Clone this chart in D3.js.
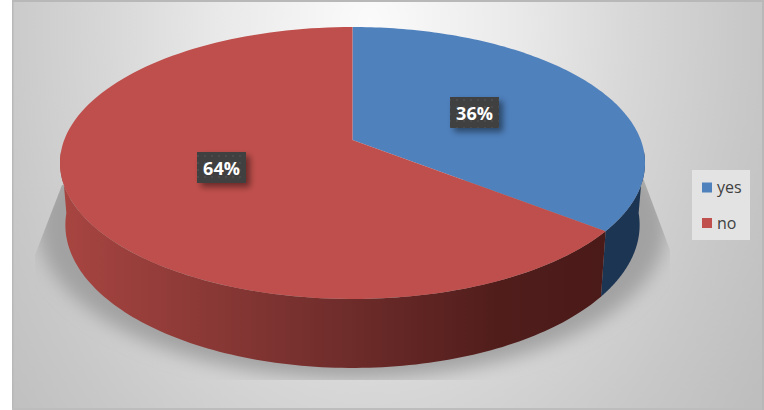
<!DOCTYPE html>
<html><head><meta charset="utf-8">
<script src="https://cdn.jsdelivr.net/npm/d3@7"></script>
<style>html,body{margin:0;padding:0;background:#fff}svg{display:block}</style>
</head><body><svg id="c" width="764" height="410"></svg>
<script>
const categories = ["yes","no"];
const shares = [35.6,64.4];
const percentLabels = ["36%","64%"];
const topColors = ["#4f81bd","#bf4f4c"];
const sideColors = ["#1c3553","url(#redSide)"];
const legendColors = ["#4f81bd","#c0504d"];
const W=764,H=410;
const svg=d3.select("#c").attr("viewBox",`0 0 ${W} ${H}`);
const defs=svg.append("defs");

const bg=defs.append("radialGradient").attr("id","bg").attr("gradientUnits","userSpaceOnUse")
  .attr("cx",0).attr("cy",0).attr("r",1)
  .attr("gradientTransform","translate(370,25) scale(470,650)");
[[0,"#fbfbfb"],[.32,"#e9e9e9"],[.56,"#d7d7d7"],[.8,"#c8c8c8"],[1,"#bebebe"]].forEach(([o,c])=>bg.append("stop").attr("offset",o).attr("stop-color",c));
const rs=defs.append("linearGradient").attr("id","redSide").attr("gradientUnits","userSpaceOnUse")
  .attr("x1",60).attr("x2",610).attr("y1",0).attr("y2",0);
[[0,"#a84541"],[.45,"#76302e"],[.8,"#501d1b"],[1,"#4a1a18"]].forEach(([o,c])=>rs.append("stop").attr("offset",o).attr("stop-color",c));
defs.append("filter").attr("id","blur").attr("x","-20%").attr("y","-20%").attr("width","140%").attr("height","140%")
  .append("feGaussianBlur").attr("stdDeviation",9);
const ds=defs.append("filter").attr("id","lblShadow").attr("x","-30%").attr("y","-30%").attr("width","170%").attr("height","170%");
ds.append("feDropShadow").attr("dx",4).attr("dy",4).attr("stdDeviation",3).attr("flood-color","#000").attr("flood-opacity",.45);
const pat=defs.append("pattern").attr("id","dots").attr("patternUnits","userSpaceOnUse").attr("width",7).attr("height",7);
pat.append("rect").attr("width",7).attr("height",7).attr("fill","#404040");
pat.append("rect").attr("x",1).attr("y",1).attr("width",2).attr("height",2).attr("fill","#4c4c4c");
defs.append("clipPath").attr("id","shadowClip").append("polygon")
  .attr("points","35,255 62,185 643,178 670,250 670,380 35,380");

// perspective mapping of the pie's circle onto screen
const persp=0.169;
const planes={
  top:{cx:352.5,cy:140,a:288.3,b:132.1},
  base:{cx:352.5,cy:200.8,a:283,b:138.9}
};
const project=(p,t)=>{
  const u=Math.sin(t),v=-Math.cos(t),w=1-persp*v;
  return [p.cx+p.a*u/w,p.cy+p.b*v/w];
};
const arcPts=(p,t0,t1)=>d3.range(0,121).map(i=>project(p,t0+(t1-t0)*i/120));
const line=d3.line();
const frontStart=95*Math.PI/180, frontEnd=265*Math.PI/180;

const pie=d3.pie().sort(null).startAngle(0).endAngle(2*Math.PI)(shares);

// background + frame
svg.append("rect").attr("x",12).attr("y",0).attr("width",W-12).attr("height",H).attr("fill","url(#bg)");
svg.append("rect").attr("x",12).attr("y",0).attr("width",W-12).attr("height",2).attr("fill","#b8b8b8");
svg.append("rect").attr("x",12).attr("y",0).attr("width",1.5).attr("height",H).attr("fill","#b8b8b8");
svg.append("rect").attr("x",12).attr("y",H-2).attr("width",W-12).attr("height",2).attr("fill","#bdbdbd");
svg.append("rect").attr("x",W-2).attr("y",0).attr("width",2).attr("height",H).attr("fill","#b8b8b8");

// shadow
svg.append("g").attr("clip-path","url(#shadowClip)").append("path")
  .attr("d",line(arcPts({cx:352.5,cy:200.8,a:310,b:148},0,2*Math.PI))+"Z")
  .attr("fill","#a2a2a2").attr("filter","url(#blur)");

// sides (front-facing part of each slice only)
svg.selectAll("path.side").data(pie).join("path").attr("class","side")
  .attr("fill",(d,i)=>sideColors[i])
  .attr("d",d=>{
    const t0=Math.max(d.startAngle,frontStart),t1=Math.min(d.endAngle,frontEnd);
    return line(arcPts(planes.top,t0,t1).concat(arcPts(planes.base,t0,t1).reverse()))+"Z";
  });
// tops
svg.selectAll("path.top").data(pie).join("path").attr("class","top")
  .attr("fill",(d,i)=>topColors[i])
  .attr("d",d=>line([[planes.top.cx,planes.top.cy]].concat(arcPts(planes.top,d.startAngle,d.endAngle)))+"Z");

// data labels
const labelBoxes=[[450,97,49,31],[197,152,49,31]];
percentLabels.forEach((t,i)=>{
  const b=labelBoxes[i];
  svg.append("rect").attr("x",b[0]).attr("y",b[1]).attr("width",b[2]).attr("height",b[3]).attr("fill","url(#dots)").attr("filter","url(#lblShadow)");
  svg.append("text").attr("x",b[0]+b[2]/2).attr("y",b[1]+b[3]/2+7).attr("text-anchor","middle")
    .attr("font-family","'Open Sans'").attr("font-weight",700).attr("font-size",18).attr("fill","#fff").text(t);
});

// legend
svg.append("rect").attr("x",692).attr("y",170).attr("width",58).attr("height",70).attr("fill","#e3e3e3");
const ly=d3.scalePoint().domain(categories).range([187.5,223]);
categories.forEach((c,i)=>{
  svg.append("rect").attr("x",702).attr("y",ly(c)-5).attr("width",10).attr("height",10).attr("fill",legendColors[i]);
  svg.append("text").attr("x",717).attr("y",ly(c)+5.5).attr("font-family","'Open Sans'").attr("font-size",16).attr("fill","#404040").text(c);
});
</script></body></html>
